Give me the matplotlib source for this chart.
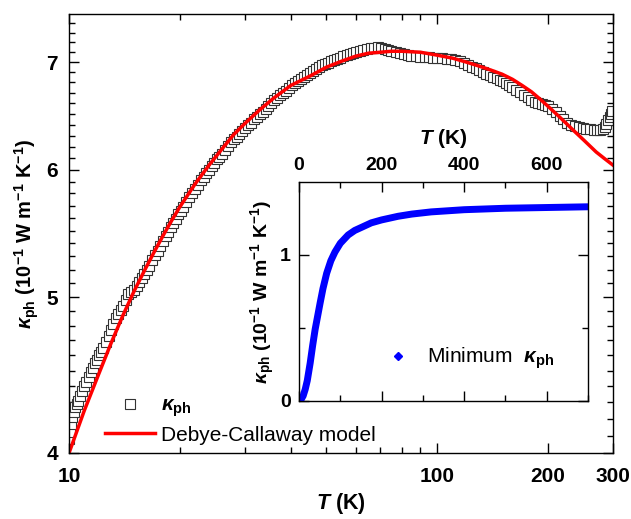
import numpy as np
import matplotlib
matplotlib.use("Agg")
import matplotlib.pyplot as plt
from matplotlib.ticker import FixedLocator, FixedFormatter, NullFormatter
from matplotlib.lines import Line2D

plt.rcParams['font.family'] = ['Liberation Sans', 'DejaVu Sans']
plt.rcParams['mathtext.fontset'] = 'custom'
plt.rcParams['mathtext.rm'] = 'Liberation Sans:bold'
plt.rcParams['mathtext.it'] = 'Liberation Sans:italic:bold'
plt.rcParams['mathtext.bf'] = 'Liberation Sans:bold'

# measured kappa_ph (open squares)
T_meas = [10.0, 10.05, 10.1, 10.2, 10.3, 10.4, 10.5, 10.6, 10.7, 10.85, 11.0, 11.15,
          11.3, 11.45, 11.6, 11.75, 11.9, 12.05, 12.2, 12.4, 12.6, 12.8, 13.0, 13.2,
          13.4, 13.6, 13.8, 14.0, 14.25, 14.5, 14.75,
          15.0, 15.25, 15.5, 15.75, 16.0, 16.25, 16.5, 16.8, 17.1, 17.4, 17.7, 18.0,
          18.3, 18.6, 18.9, 19.2, 19.5, 19.8, 20.1, 20.4, 20.8, 21.2, 21.6, 22.0,
          22.4, 22.8, 23.2, 23.6, 24.0, 24.4, 24.8, 25.2, 25.6, 26.0, 26.5, 27.0,
          27.5, 28.0, 28.5, 29.0, 29.5, 30.0, 30.6, 31.2, 31.8, 32.4, 33.0, 33.6,
          34.2, 34.8, 35.4, 36.0, 36.7, 37.4, 38.1, 38.8, 39.5, 40.2, 41.0, 41.8,
          42.6, 43.4, 44.2, 45.0, 45.9, 46.8, 47.7, 48.6, 49.5, 50.5, 51.5, 52.5,
          53.5, 54.5, 55.6, 56.7, 57.8, 58.9, 60.0,
          61.5, 63.0, 64.5, 66.0, 67.5, 69.0, 70.5, 72.0, 73.5, 75.0, 77.0, 79.0,
          81.0, 83.0, 85.0, 87.5, 90.0, 92.5, 95.0, 97.5, 100.0, 103.0, 106.0, 109.0,
          112.0, 115.0, 118.0, 121.0, 124.0, 127.0, 130.0, 133.0, 136.0, 139.0, 142.0,
          145.0, 148.0, 151.0, 154.0, 157.0, 160.0, 164.0, 168.0, 172.0, 176.0, 180.0,
          184.0, 188.0, 192.0, 196.0, 200.0, 205.0, 210.0, 215.0, 220.0, 225.0, 230.0,
          236.0, 242.0, 248.0, 254.0, 260.0, 266.0, 272.0, 277.0, 281.0, 285.0, 288.0,
          291.0, 294.0, 296.5, 299.0]
k_meas = [4.08, 4.12, 4.17, 4.21, 4.24, 4.27, 4.29, 4.31, 4.34, 4.37, 4.40, 4.43,
          4.46, 4.49, 4.52, 4.55, 4.57, 4.60, 4.62, 4.65, 4.69, 4.73, 4.77, 4.81,
          4.85, 4.88, 4.91, 4.94, 4.98, 5.02, 5.04,
          5.05, 5.08, 5.11, 5.14, 5.17, 5.20, 5.23, 5.27, 5.31, 5.34, 5.38, 5.42,
          5.46, 5.49, 5.53, 5.56, 5.59, 5.63, 5.66, 5.69, 5.73, 5.77, 5.80, 5.84,
          5.87, 5.91, 5.94, 5.97, 6.00, 6.03, 6.06, 6.09, 6.11, 6.14, 6.17, 6.21,
          6.24, 6.27, 6.29, 6.32, 6.34, 6.37, 6.40, 6.42, 6.45, 6.47, 6.50, 6.52,
          6.55, 6.57, 6.60, 6.63, 6.65, 6.68, 6.70, 6.72, 6.75, 6.77, 6.79, 6.81,
          6.83, 6.85, 6.87, 6.89, 6.91, 6.93, 6.95, 6.97, 6.98, 6.99, 7.01, 7.02,
          7.03, 7.04, 7.06, 7.07, 7.08, 7.09, 7.10,
          7.11, 7.12, 7.13, 7.14, 7.14, 7.15, 7.14, 7.13, 7.12, 7.11, 7.10, 7.09,
          7.08, 7.07, 7.06, 7.06, 7.05, 7.05, 7.05, 7.04, 7.04, 7.04, 7.03, 7.03,
          7.02, 7.01, 6.99, 6.97, 6.95, 6.94, 6.92, 6.90, 6.88, 6.87, 6.85,
          6.84, 6.82, 6.81, 6.79, 6.77, 6.76, 6.73, 6.71, 6.68, 6.66, 6.63,
          6.61, 6.60, 6.59, 6.58, 6.57, 6.55, 6.52, 6.48, 6.45, 6.42, 6.40,
          6.39, 6.38, 6.37, 6.36, 6.36, 6.35, 6.35, 6.35, 6.36, 6.38, 6.41,
          6.44, 6.47, 6.50, 6.53]

# Debye-Callaway fit (red line)
T_fit = [10, 11, 12, 13, 14, 15, 16, 17, 18, 19, 20, 22, 24, 26, 28, 30, 33, 36,
         40, 45, 50, 55, 60, 65, 70, 75, 80, 90, 100, 110, 120, 130, 140, 150, 160,
         170, 180, 190, 200, 215, 234, 250, 270, 285, 300]
k_fit = [4.00, 4.25, 4.47, 4.68, 4.87, 5.04, 5.19, 5.33, 5.46, 5.58, 5.69, 5.88,
         6.04, 6.18, 6.31, 6.41, 6.54, 6.65, 6.77, 6.86, 6.95, 7.01, 7.06, 7.09,
         7.10, 7.11, 7.11, 7.10, 7.07, 7.04, 7.00, 6.96, 6.92, 6.88, 6.83, 6.77,
         6.71, 6.64, 6.57, 6.47, 6.35, 6.26, 6.155, 6.095, 6.04]

# inset: minimum kappa_ph
T_min = [0, 5, 10, 15, 20, 27, 33, 39, 45, 51, 58, 67, 77, 87, 100, 119, 135, 152,
         175, 200, 240, 273, 320, 400, 500, 600, 700]
k_min = [0.0, 0.01, 0.035, 0.08, 0.14, 0.26, 0.38, 0.49, 0.58, 0.67, 0.77, 0.875,
         0.96, 1.02, 1.08, 1.137, 1.168, 1.19, 1.22, 1.24, 1.265, 1.28, 1.295, 1.31,
         1.32, 1.325, 1.33]

ylab = r'$\kappa_{\mathbf{ph}}$ (10$^{\mathbf{-1}}$ W m$^{\mathbf{-1}}$ K$^{\mathbf{-1}}$)'

fig = plt.figure(figsize=(6.31, 5.19), dpi=100)
ax = fig.add_axes([0.1094, 0.1272, 0.8621, 0.8459])

ax.plot(T_meas, k_meas, 's', ms=6.5, mfc='white', mec='#333333', mew=0.8,
        label=r'$\kappa_{\mathbf{ph}}$')
ax.plot(T_fit, k_fit, '-', color='red', lw=2.5, label='Debye-Callaway model')

ax.set_xscale('log')
ax.set_yscale('log')
ax.set_xlim(10, 300)
ax.set_ylim(4, 7.5)
ax.xaxis.set_major_locator(FixedLocator([10, 100, 200, 300]))
ax.xaxis.set_major_formatter(FixedFormatter(['10', '100', '200', '300']))
ax.xaxis.set_minor_locator(FixedLocator([20, 30, 40, 50, 60, 70, 80, 90]))
ax.xaxis.set_minor_formatter(NullFormatter())
ax.yaxis.set_major_locator(FixedLocator([4, 5, 6, 7]))
ax.yaxis.set_major_formatter(FixedFormatter(['4', '5', '6', '7']))
ax.yaxis.set_minor_locator(FixedLocator([4 + 0.1 * i for i in range(1, 35)]))
ax.yaxis.set_minor_formatter(NullFormatter())
ax.tick_params(which='both', direction='in', top=True, right=True, width=1.0)
ax.tick_params(which='major', length=7, labelsize=15, pad=8)
ax.tick_params(axis='x', which='major', pad=10)
ax.tick_params(which='minor', length=4)
for lab in ax.get_xticklabels() + ax.get_yticklabels():
    lab.set_fontweight('bold')
for s in ax.spines.values():
    s.set_linewidth(1.0)
ax.set_xlabel(r'$T$ (K)', fontsize=15.5, fontweight='bold', labelpad=4)
ax.set_ylabel(ylab, fontsize=14.5, fontweight='bold', labelpad=4)

ax.legend(loc='lower left', bbox_to_anchor=(0.05, 0.0), frameon=False,
          fontsize=15, handlelength=2.4, handletextpad=0.3, labelspacing=0.3,
          borderpad=0.2, borderaxespad=0.2)

# inset
ins = fig.add_axes([0.4739, 0.2274, 0.458, 0.4220])
ins.plot(T_min, k_min, '-', color='#0000ff', lw=5, solid_capstyle='butt')
ins.set_xlim(0, 700)
ins.set_ylim(0, 1.5)
ins.xaxis.set_major_locator(FixedLocator([0, 200, 400, 600]))
ins.xaxis.set_minor_locator(FixedLocator([100, 300, 500, 700]))
ins.yaxis.set_major_locator(FixedLocator([0, 1]))
ins.yaxis.set_minor_locator(FixedLocator([0.5]))
ins.xaxis.tick_top()
ins.xaxis.set_label_position('top')
ins.tick_params(which='both', direction='in', top=True, bottom=True,
                left=True, right=True, labeltop=True, labelbottom=False, width=1.0)
ins.tick_params(which='major', length=7, labelsize=14, pad=6)
ins.tick_params(which='minor', length=4)
for lab in ins.get_xticklabels() + ins.get_yticklabels():
    lab.set_fontweight('bold')
for s in ins.spines.values():
    s.set_linewidth(1.0)
ins.set_xlabel(r'$T$ (K)', fontsize=15, fontweight='bold', labelpad=9)
ins.set_ylabel(ylab, fontsize=14, fontweight='bold', labelpad=2)
h = Line2D([], [], ls='none', marker='D', ms=4.5, color='#0000ff')
ins.legend([h], [r'Minimum  $\kappa_{\mathbf{ph}}$'], loc='lower left',
           bbox_to_anchor=(0.24, 0.05), frameon=False, fontsize=15,
           handlelength=1.0, handletextpad=0.9)

fig.savefig('out.png', dpi=100)
